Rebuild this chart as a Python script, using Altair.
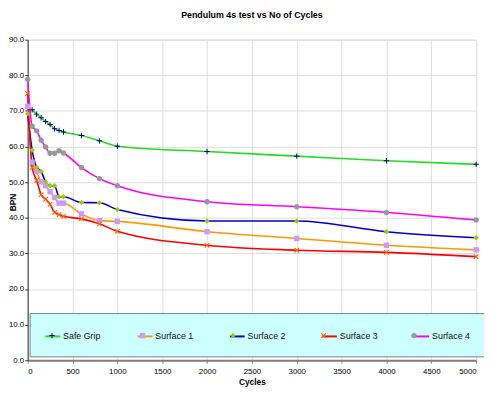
import altair as alt
import pandas as pd

series = ["Safe Grip", "Surface 1", "Surface 2", "Surface 3", "Surface 4"]
cycles = [0, 50, 100, 150, 200, 250, 300, 350, 400, 600, 800, 1000, 2000, 3000, 4000, 5000]
safe_grip = [None, 70.3, 69.1, 68.1, 67.0, 66.2, 65.0, 64.5, 64.1, 63.1, 61.6, 60.1, 58.6, 57.3, 56.0, 55.0]
surface1 = [71.3, 55.6, 53.0, 50.1, 49.0, 47.3, 45.7, 44.1, 44.1, 41.1, 39.2, 39.0, 36.1, 34.2, 32.3, 31.0]
surface2 = [69.2, 59.0, 54.2, 53.0, 50.1, 49.0, 49.0, 45.9, 45.9, 44.3, 44.2, 42.3, 39.1, 39.1, 36.1, 34.4]
surface3 = [74.9, 54.1, 50.5, 46.5, 45.2, 43.8, 41.5, 40.9, 40.4, 39.7, 38.3, 36.2, 32.3, 30.9, 30.3, 29.1]
surface4 = [78.8, 65.7, 64.4, 61.8, 59.9, 58.1, 58.1, 58.8, 58.2, 54.1, 51.0, 49.0, 44.5, 43.1, 41.5, 39.4]

line_colors = ["#22DD22", "#FF9900", "#0000CC", "#FF0000", "#FF00FF"]
marker_colors = ["#000080", "#CC99FF", "#99CC00", "#FF6600", "#999999"]

plus_path = "M-1,-0.18L-0.18,-0.18L-0.18,-1L0.18,-1L0.18,-0.18L1,-0.18L1,0.18L0.18,0.18L0.18,1L-0.18,1L-0.18,0.18L-1,0.18Z"
x_path = "M-1,-0.7L-0.7,-1L0,-0.3L0.7,-1L1,-0.7L0.3,0L1,0.7L0.7,1L0,0.3L-0.7,1L-1,0.7L-0.3,0Z"
shapes = [plus_path, "square", "diamond", x_path, "circle"]

rows = []
for name, vals in zip(series, [safe_grip, surface1, surface2, surface3, surface4]):
    for c, v in zip(cycles, vals):
        if v is not None:
            rows.append({"Cycles": c, "BPN": v, "Series": name, "S2": name})
df = pd.DataFrame(rows)

FONT = "Liberation Sans"

x = alt.X("Cycles:Q", scale=alt.Scale(domain=[0, 5000], nice=False),
          axis=alt.Axis(values=list(range(0, 5001, 500)), format="d", title="Cycles",
                        titleFontWeight="bold", titleFontSize=8.5, titlePadding=3,
                        labelFontSize=8, labelPadding=4, tickSize=3,
                        domainColor="#808080", domainWidth=2, tickColor="#808080"))
y = alt.Y("BPN:Q", scale=alt.Scale(domain=[0, 90], nice=False),
          axis=alt.Axis(values=list(range(0, 91, 10)), format=".1f", title="BPN",
                        titleFontWeight="bold", titleFontSize=8.5, titleX=-19.5, titleY=165,
                        titleBaseline="top",
                        labelFontSize=8, labelPadding=1, tickSize=3,
                        domainColor="#333333", tickColor="#333333"))

S = 91.5
R1 = 7.5
R2 = (30 ** 0.5) / 2
leg1 = alt.Legend(orient="none", legendX=2, legendY=278, direction="horizontal", columns=5,
                  padding=15, fillColor="#CCFFFF", strokeColor="#808080", symbolType="stroke",
                  symbolSize=225, symbolStrokeWidth=2, labelFontSize=9, labelOffset=2,
                  columnPadding=S - 55.5 - 3.2, gridAlign="all", title=None, labelFont=FONT,
                  labelColor="#111111")
leg2 = alt.Legend(orient="none", legendX=2 + R1 - R2, legendY=278 + R1 - R2, direction="horizontal",
                  columns=5, padding=15, symbolSize=30, symbolStrokeWidth=0, labelFontSize=4,
                  labelOffset=0, labelExpr="''", columnPadding=S - 2 * R2, gridAlign="all",
                  title=None, labelFont=FONT)

lines = alt.Chart(df).mark_line(interpolate="monotone", strokeWidth=1.6).encode(
    x=x, y=y,
    stroke=alt.Stroke("Series:N", scale=alt.Scale(range=line_colors), legend=leg1),
    detail="Series:N",
)
points = alt.Chart(df).mark_point(filled=True, opacity=1, size=30, strokeWidth=0).encode(
    x=x, y=y,
    fill=alt.Fill("S2:N", scale=alt.Scale(range=marker_colors), legend=leg2),
    shape=alt.Shape("S2:N", scale=alt.Scale(range=shapes), legend=leg2),
)

chart = alt.layer(lines, points).properties(
    width=456, height=326,
    title=alt.TitleParams("Pendulum 4s test vs No of Cycles", fontSize=9, font=FONT,
                          fontWeight="bold", offset=16, anchor="middle", color="#000000"),
    autosize=alt.AutoSizeParams(type="none"),
    padding={"left": 20, "top": 29, "right": 8, "bottom": 26},
).configure_view(fill="#FFFFCC", stroke="#808080", strokeWidth=1).configure_axis(
    grid=False, labelFont=FONT, titleFont=FONT, labelColor="#222222", titleColor="#000000"
).configure(background="white")

chart.save("out.html", embed_options={"renderer": "svg", "actions": False})
